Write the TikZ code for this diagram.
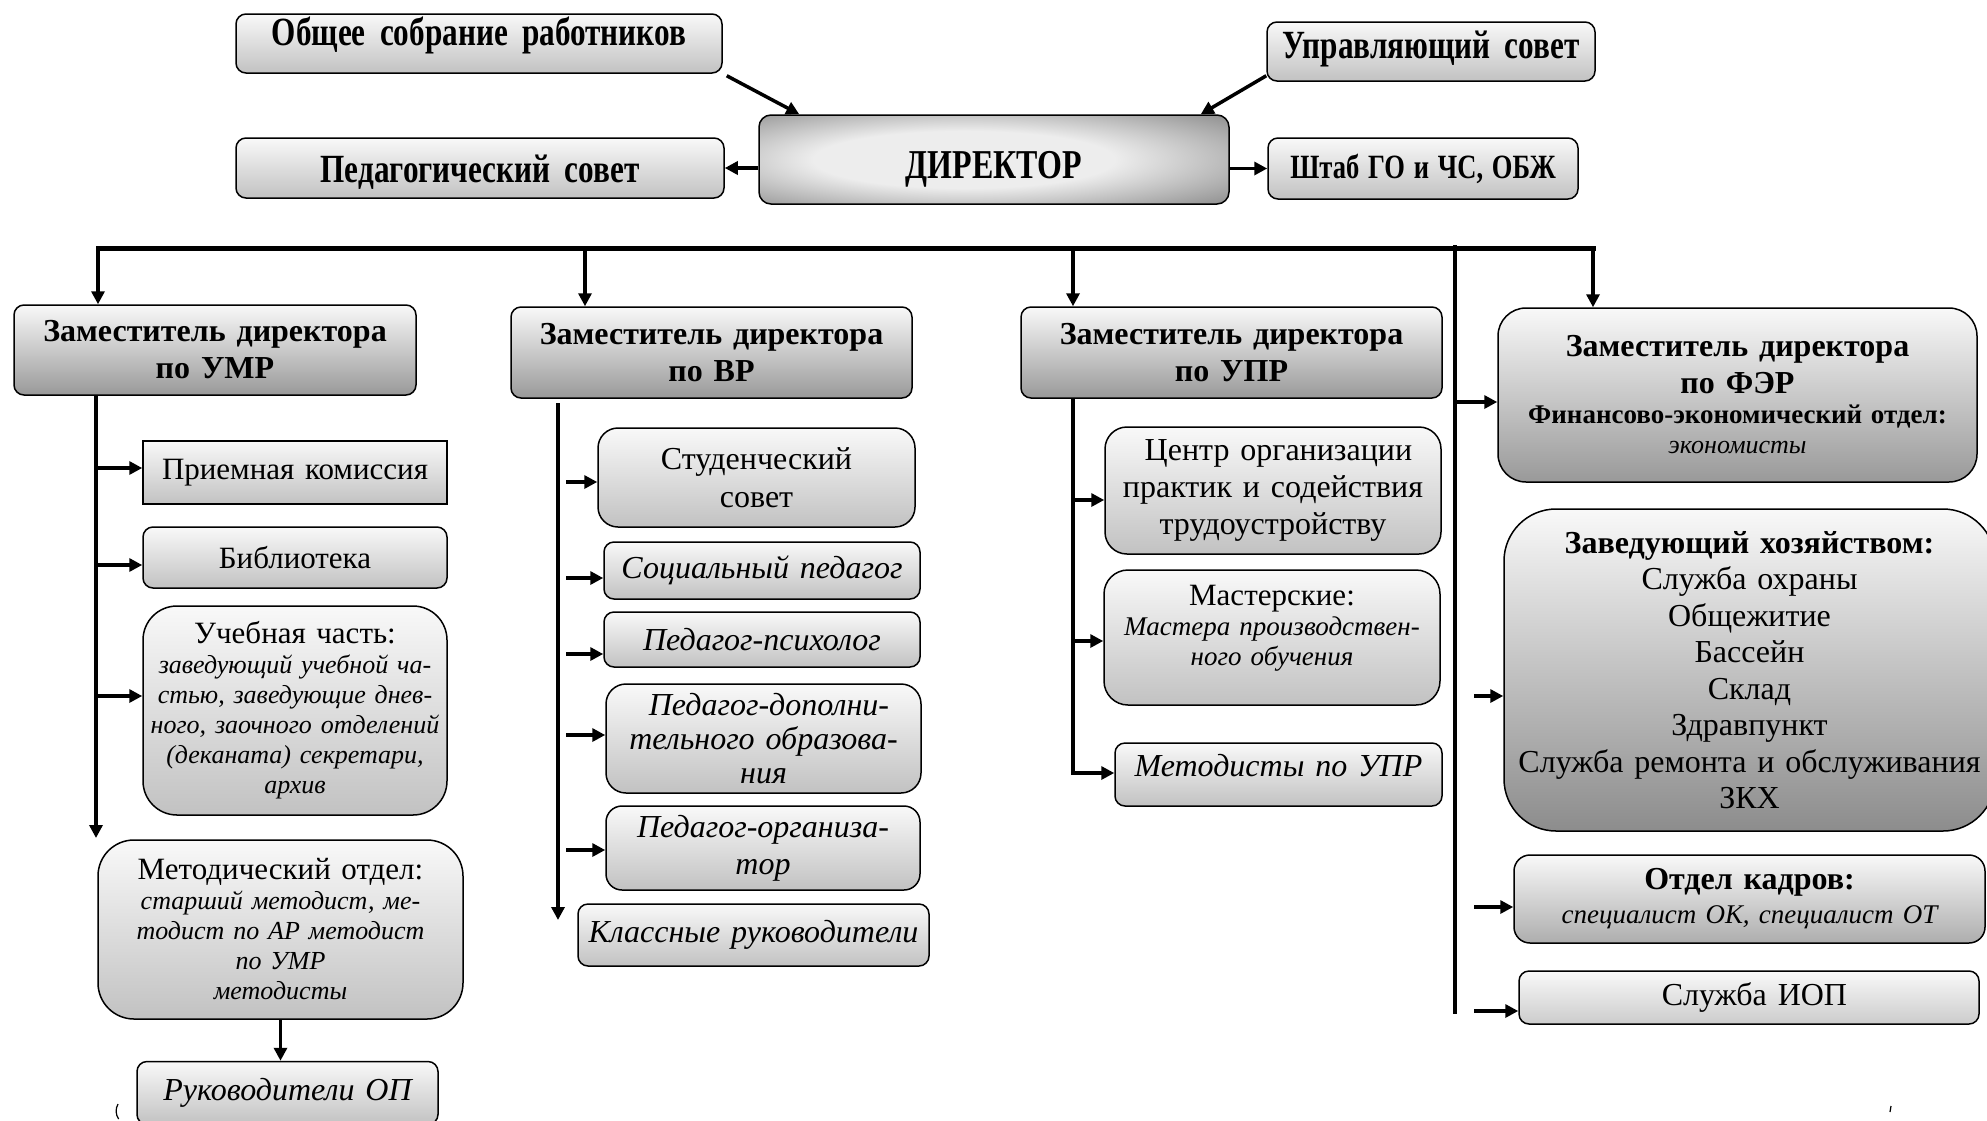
\documentclass[tikz,border=0pt]{standalone}
\usepackage{fontspec}
\setmainfont{Liberation Serif}
\newfontfamily\condb[FakeStretch=0.78]{Liberation Serif}
\usetikzlibrary{arrows.meta,calc}
\definecolor{cTop}{gray}{0.975}
\definecolor{cBot}{gray}{0.76}
\definecolor{cZamBot}{gray}{0.6}
\definecolor{cZavBot}{gray}{0.55}
\definecolor{cKadrBot}{gray}{0.68}
\definecolor{cIopBot}{gray}{0.8}
\definecolor{cDirD}{gray}{0.4}
\definecolor{cDirL}{gray}{0.93}
\pgfdeclareradialshading{dirshade}{\pgfpoint{-4bp}{0bp}}{color(0bp)=(cDirL); color(16bp)=(cDirL); color(46bp)=(cDirD); color(80bp)=(cDirD)}
\newcommand\wsp[1]{\spaceskip=#1em\relax}
\newcommand\szTop{\condb\bfseries\fontsize{40}{44}\selectfont\wsp{0.36}}
\newcommand\szSh{\condb\bfseries\fontsize{34}{40}\selectfont\wsp{0.26}}
\newcommand\szZam{\bfseries\fontsize{32}{37}\selectfont\wsp{0.34}}
\newcommand\szReg{\fontsize{31}{36}\selectfont\wsp{0.34}}
\newcommand\szIt{\itshape\fontsize{32}{35}\selectfont\wsp{0.34}}
\newcommand\szSm{\itshape\fontsize{26}{30}\selectfont\wsp{0.34}}
\newcommand\szFin{\bfseries\fontsize{27}{30}\selectfont\wsp{0.32}}
\begin{document}
\begin{tikzpicture}[x=1pt,y=-1pt,
  bx/.style={draw, line width=1.5pt, rounded corners=10pt, top color=cTop, bottom color=cBot, inner sep=0pt, align=center},
  zam/.style={bx, bottom color=cZamBot},
  txt/.style={inner sep=0pt, align=center},
  conn/.style={line width=3.5pt, -{Triangle[length=13pt,width=13pt]}},
  ln/.style={line width=3.5pt}]
\useasboundingbox (0,0) rectangle (1987,1120);
\fill[white] (0,0) rectangle (1987,1120);
\clip (0,0) rectangle (1987,1120);

% top level
\node[bx, minimum width=486pt, minimum height=59pt] (obs) at (479,43.5) {};
\node[txt] (obsT) at (479,35) {\szTop Общее собрание работников};
\node[bx, minimum width=328pt, minimum height=59pt] (upr) at (1431,51.5) {};
\node[txt] (uprT) at (1431,49) {\szTop Управляющий совет};
\node[bx, shading=dirshade, rounded corners=12pt, minimum width=470pt, minimum height=89pt] (dir) at (994,159.5) {};
\node[txt] (dirT) at (994,169) {\fontsize{41}{44}\condb\bfseries\selectfont ДИРЕКТОР};
\node[bx, minimum width=488pt, minimum height=60pt] (ped) at (480,168) {};
\node[txt] (pedT) at (480,172) {\szTop Педагогический совет};
\node[bx, minimum width=310pt, minimum height=61pt, text width=300pt] (shtab) at (1423,168.5) {{\szSh Штаб ГО и ЧС, ОБЖ\par}};

\draw[conn] ([xshift=4pt,yshift=-2pt]obs.south east) -- ([xshift=41pt]dir.north west);
\draw[conn] ([yshift=6pt]upr.south west) -- ([xshift=-29pt]dir.north east);
\draw[conn] (dir.west |- ped.east) -- (ped.east);
\draw[conn] (dir.east |- shtab.west) -- (shtab.west);

% deputies
\node[zam, minimum width=402pt, minimum height=90pt, text width=396pt] (umr) at (215,350) {{\szZam Заместитель директора\\по УМР\par}};
\node[zam, minimum width=401pt, minimum height=91pt, text width=395pt] (vr) at (711.5,352.5) {{\szZam Заместитель директора\\по ВР\par}};
\node[zam, minimum width=421pt, minimum height=91pt, text width=410pt] (uprz) at (1231.5,352.5) {{\szZam Заместитель директора\\по УПР\par}};
\node[zam, rounded corners=28pt, minimum width=479pt, minimum height=174pt, text width=470pt] (fer) at (1737.5,395) {{\szZam Заместитель директора\\по ФЭР\par}{\szFin Финансово-экономический отдел:\par}{\itshape\fontsize{26}{30}\selectfont экономисты\par}};

% bus
\coordinate (busL) at (96,248);
\coordinate (busR) at (1596,248);
\coordinate (d1) at (98,248);
\coordinate (d2) at (585,248);
\coordinate (d3) at (1073,248);
\coordinate (d4) at (1593,248);
\draw[line width=5pt] (busL) -- (busR);
\draw[conn] (d1) -- (d1 |- umr.north);
\draw[conn] (d2) -- (d2 |- vr.north);
\draw[conn] (d3) -- (d3 |- uprz.north);
\draw[conn] (d4) -- (d4 |- fer.north);

% column 1
\node[bx, rounded corners=0pt, minimum width=304pt, minimum height=63pt, text width=298pt] (priem) at (295,472.5) {{\szReg Приемная комиссия\par}};
\node[bx, minimum width=304pt, minimum height=61pt, text width=298pt] (bibl) at (295,557.5) {{\szReg Библиотека\par}};
\node[bx, rounded corners=34pt, minimum width=304pt, minimum height=209pt, text width=298pt] (ucheb) at (295,710.5) {{\szReg Учебная часть:\par}{\szSm заведующий учебной ча-\\стью, заведующие днев-\\ного, заочного отделений\\(деканата) секретари,\\архив\par}};
\node[bx, rounded corners=36pt, minimum width=365pt, minimum height=179pt, text width=357pt] (metod) at (280.5,929.5) {{\szReg Методический отдел:\par}{\szSm старший методист, ме-\\тодист по АР методист\\по УМР\\методисты\par}};
\node[bx, minimum width=301pt, minimum height=63pt, text width=295pt] (ruk) at (287.5,1093) {{\szIt Руководители ОП\par}};

\coordinate (t1) at (96,0);
\draw[conn] (t1 |- umr.south) -- (t1 |- 0,838);
\draw[conn] (t1 |- 0,468) -- (priem.west |- 0,468);
\draw[conn] (t1 |- 0,565) -- (bibl.west |- 0,565);
\draw[conn] (t1 |- 0,696) -- (ucheb.west |- 0,696);
\draw[conn] (metod.south) -- (metod.south |- ruk.north);

% column 2
\node[bx, rounded corners=20pt, minimum width=317pt, minimum height=99pt, text width=310pt] (stud) at (756.5,477.5) {{\fontsize{32}{38}\selectfont Студенческий\\совет\par}};
\node[bx, minimum width=316pt, minimum height=57pt, text width=310pt] (soc) at (762,570.5) {{\szIt Социальный педагог\par}};
\node[bx, minimum width=316pt, minimum height=55pt, text width=310pt] (psy) at (762,639.5) {{\szIt Педагог-психолог\par}};
\node[bx, rounded corners=20pt, minimum width=315pt, minimum height=109pt, text width=309pt] (dop) at (763.5,738.5) {{\itshape\fontsize{32}{34}\selectfont\wsp{0.34} Педагог-дополни-\\тельного образова-\\ния\par}};
\node[bx, rounded corners=16pt, minimum width=314pt, minimum height=84pt, text width=308pt] (org) at (763,848) {{\itshape\fontsize{32}{37}\selectfont Педагог-организа-\\тор\par}};
\node[bx, minimum width=351pt, minimum height=62pt, text width=345pt] (kl) at (753.5,935) {{\szIt Классные руководители\par}};

\coordinate (t2) at (558,0);
\coordinate (t2s) at (566,0);
\draw[conn] (t2 |- 0,403) -- (t2 |- 0,920);
\draw[conn] (t2s |- 0,482) -- (stud.west |- 0,482);
\draw[conn] (t2s |- 0,578) -- (soc.west |- 0,578);
\draw[conn] (t2s |- 0,654) -- (psy.west |- 0,654);
\draw[conn] (t2s |- 0,735) -- (dop.west |- 0,735);
\draw[conn] (t2s |- 0,850) -- (org.west |- 0,850);

% column 3
\node[bx, rounded corners=22pt, minimum width=336pt, minimum height=127pt, text width=330pt] (centr) at (1273,490.5) {{\fontsize{32}{37}\selectfont\wsp{0.34} Центр организации\\практик и содействия\\трудоустройству\par}};
\node[bx, rounded corners=24pt, minimum width=336pt, minimum height=135pt] (mast) at (1272,637.5) {};
\node[txt, text width=330pt] (mastT) at (1272,628) {{\szReg Мастерские:\par}{\itshape\fontsize{27}{30}\selectfont\wsp{0.34} Мастера производствен-\\ного обучения\par}};
\node[bx, minimum width=327pt, minimum height=63pt] (metupr) at (1278.5,774.5) {};
\node[txt] (metuprT) at (1278.5,766) {\szIt Методисты по УПР};

\coordinate (t3) at (1073,0);
\draw[conn] (t3 |- uprz.south) -- (t3 |- 0,773) -- (metupr.west |- 0,773);
\draw[conn] (t3 |- 0,500) -- (centr.west |- 0,500);
\draw[conn] (t3 |- 0,641) -- (mast.west |- 0,641);

% column 4
\node[bx, bottom color=cZavBot, rounded corners=52pt, minimum width=491pt, minimum height=322pt, text width=485pt] (zavhoz) at (1749.5,670) {{\szZam Заведующий хозяйством:\par}{\fontsize{32}{36.5}\selectfont\wsp{0.34} Служба охраны\\Общежитие\\Бассейн\\Склад\\Здравпункт\\Служба ремонта и обслуживания\\ЗКХ\par}};
\node[bx, bottom color=cKadrBot, rounded corners=16pt, minimum width=471pt, minimum height=88pt, text width=465pt] (kadr) at (1749.5,899) {{\szZam Отдел кадров:\par}{\itshape\fontsize{27}{34}\selectfont\wsp{0.34} специалист ОК, специалист ОТ\par}};
\node[bx, bottom color=cIopBot, minimum width=460pt, minimum height=53pt, text width=454pt] (iop) at (1749,997.5) {{\fontsize{32}{36}\selectfont\wsp{0.34} Служба ИОП\par}};

\coordinate (t4) at (1455,0);
\coordinate (t4s) at (1474,0);
\draw[ln] (t4 |- 0,245) -- (t4 |- 0,1014);
\draw[conn] (t4 |- 0,402) -- (fer.west |- 0,402);
\draw[conn] (t4s |- 0,696) -- (zavhoz.west |- 0,696);
\draw[conn] (t4s |- 0,907) -- (kadr.west |- 0,907);
\draw[conn] (t4s |- 0,1011) -- (iop.west |- 0,1011);

% small marks at the bottom edge
\draw[line width=1.2pt] (118,1104) arc[start angle=150, end angle=215, radius=14pt];
\draw[line width=1.2pt] (1891,1106) -- (1890,1112);
\end{tikzpicture}
\end{document}
